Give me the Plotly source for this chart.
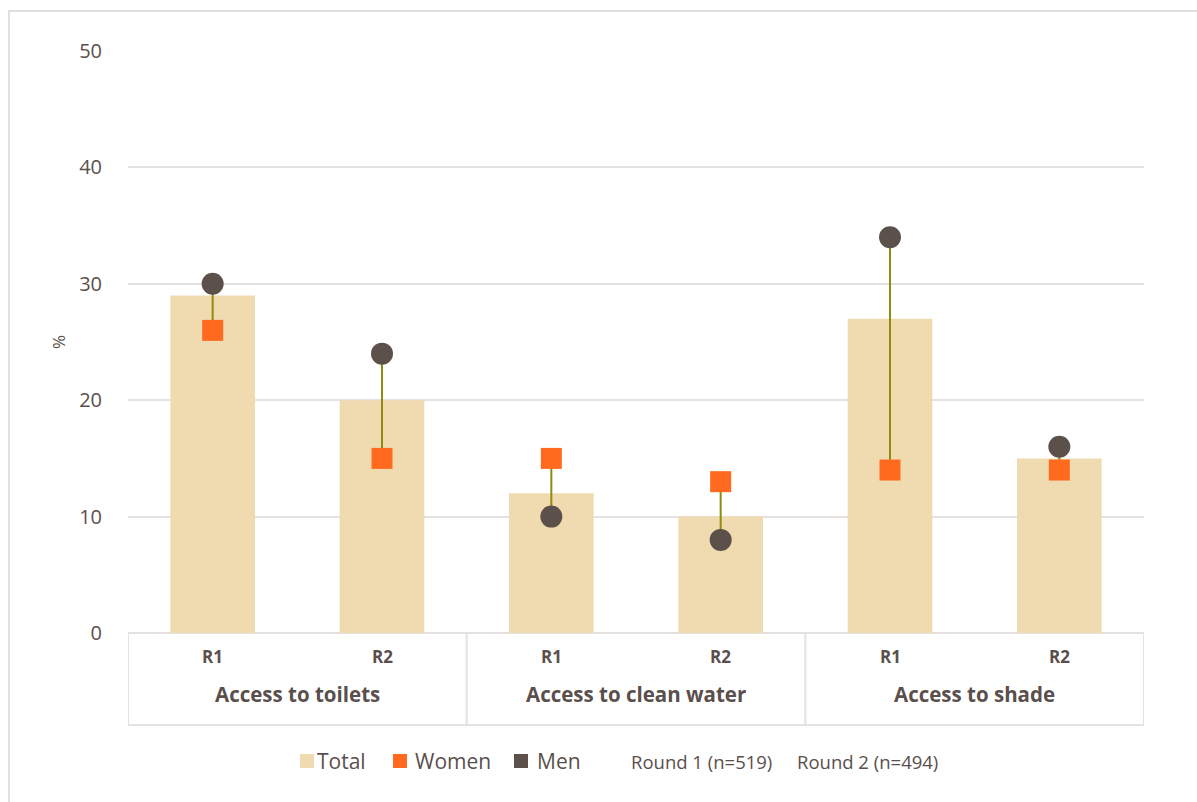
import plotly.graph_objects as go

# Survey results by round and gender (%)
groups = ["Access to toilets", "Access to clean water", "Access to shade"]
rounds = ["R1", "R2"]
total = [29, 20, 12, 10, 27, 15]
women = [26, 15, 15, 13, 14, 14]
men = [30, 24, 10, 8, 34, 16]
y_ticks = [0, 10, 20, 30, 40, 50]
legend_note = ["Round 1 (n=519)", "Round 2 (n=494)"]

TEXT = "#5a4f4c"
GRID = "#e6e1e1"
BAR = "#f0dbb1"
WOMEN_C = "#ff6a1f"
MEN_C = "#5c504b"
LINK_C = "#8c8c0f"
FONT = "Open Sans"

W, H = 1197, 802
L, R, T, B = 128, 53, 51, 169
PW, PH = W - L - R, H - T - B

def px_x(p):
    return (p - L) / PW

def px_y(p):
    return (H - B - p) / PH

xs = list(range(len(total)))

fig = go.Figure()
fig.add_trace(go.Bar(x=xs, y=total, width=0.5, marker=dict(color=BAR, line=dict(width=0)),
                     showlegend=False, hoverinfo="y"))

lx, ly = [], []
for i in xs:
    lx += [i, i, None]
    ly += [women[i], men[i], None]
fig.add_trace(go.Scatter(x=lx, y=ly, mode="lines", line=dict(color=LINK_C, width=2),
                         showlegend=False, hoverinfo="skip"))
fig.add_trace(go.Scatter(x=xs, y=women, mode="markers",
                         marker=dict(symbol="square", size=21, color=WOMEN_C),
                         showlegend=False))
fig.add_trace(go.Scatter(x=xs, y=men, mode="markers",
                         marker=dict(symbol="circle", size=22, color=MEN_C),
                         showlegend=False))

shapes = []
annotations = []

# Category box under the axis
box_bottom = px_y(725)
shapes.append(dict(type="line", xref="x", yref="paper", x0=-0.5, x1=5.5, y0=box_bottom, y1=box_bottom,
                   line=dict(color=GRID, width=2)))
for xv in [-0.5, 1.5, 3.5, 5.5]:
    shapes.append(dict(type="line", xref="x", yref="paper", x0=xv, x1=xv, y0=0, y1=box_bottom,
                       line=dict(color=GRID, width=2)))

for i in xs:
    annotations.append(dict(x=i, y=px_y(656), xref="x", yref="paper", text=f"<b>{rounds[i % 2]}</b>",
                            showarrow=False, xanchor="center", yanchor="middle",
                            font=dict(family=FONT, size=17, color=TEXT)))
for g, name in enumerate(groups):
    annotations.append(dict(x=2 * g + 0.5, y=px_y(694), xref="x", yref="paper", text=f"<b>{name}</b>",
                            showarrow=False, xanchor="center", yanchor="middle",
                            font=dict(family=FONT, size=20.5, color=TEXT)))

# Outer frame
shapes.append(dict(type="rect", xref="paper", yref="paper", x0=px_x(9), x1=px_x(1210),
                   y0=px_y(815), y1=px_y(11), line=dict(color="#e3dfdf", width=2), layer="below"))

# Legend
leg_y = px_y(761)
items = [("Total", BAR, 300, 315), ("Women", WOMEN_C, 393, 413), ("Men", MEN_C, 514, 535)]
for label, col, sx, tx in items:
    shapes.append(dict(type="rect", xref="paper", yref="paper", x0=px_x(sx), x1=px_x(sx + 14),
                       y0=px_y(768), y1=px_y(754), fillcolor=col, line=dict(width=0)))
    annotations.append(dict(x=px_x(tx), y=leg_y, xref="paper", yref="paper", text=label,
                            showarrow=False, xanchor="left", yanchor="middle",
                            font=dict(family=FONT, size=21, color=TEXT)))
for note, nx in zip(legend_note, [629, 795]):
    annotations.append(dict(x=px_x(nx), y=leg_y, xref="paper", yref="paper", text=note,
                            showarrow=False, xanchor="left", yanchor="middle",
                            font=dict(family=FONT, size=18.5, color=TEXT)))

# Y axis title
annotations.append(dict(x=px_x(58), y=px_y(342), xref="paper", yref="paper", text="%", textangle=-90,
                        showarrow=False, xanchor="center", yanchor="middle",
                        font=dict(family=FONT, size=17, color=TEXT)))

fig.update_layout(
    width=W, height=H,
    margin=dict(l=L, r=R, t=T, b=B, pad=0),
    paper_bgcolor="white", plot_bgcolor="white",
    font=dict(family=FONT, color=TEXT),
    shapes=shapes, annotations=annotations,
    showlegend=False,
    xaxis=dict(range=[-0.5, 5.5], showticklabels=False, showgrid=False, zeroline=False,
               showline=False, fixedrange=True),
    yaxis=dict(range=[0, 50], tickvals=y_ticks, showgrid=True, gridcolor=GRID, gridwidth=2,
               zeroline=True, zerolinecolor=GRID, zerolinewidth=2, ticks="", ticklabelstandoff=25,
               tickfont=dict(family=FONT, size=20, color=TEXT), fixedrange=True),
)

fig.write_html("out.html")
